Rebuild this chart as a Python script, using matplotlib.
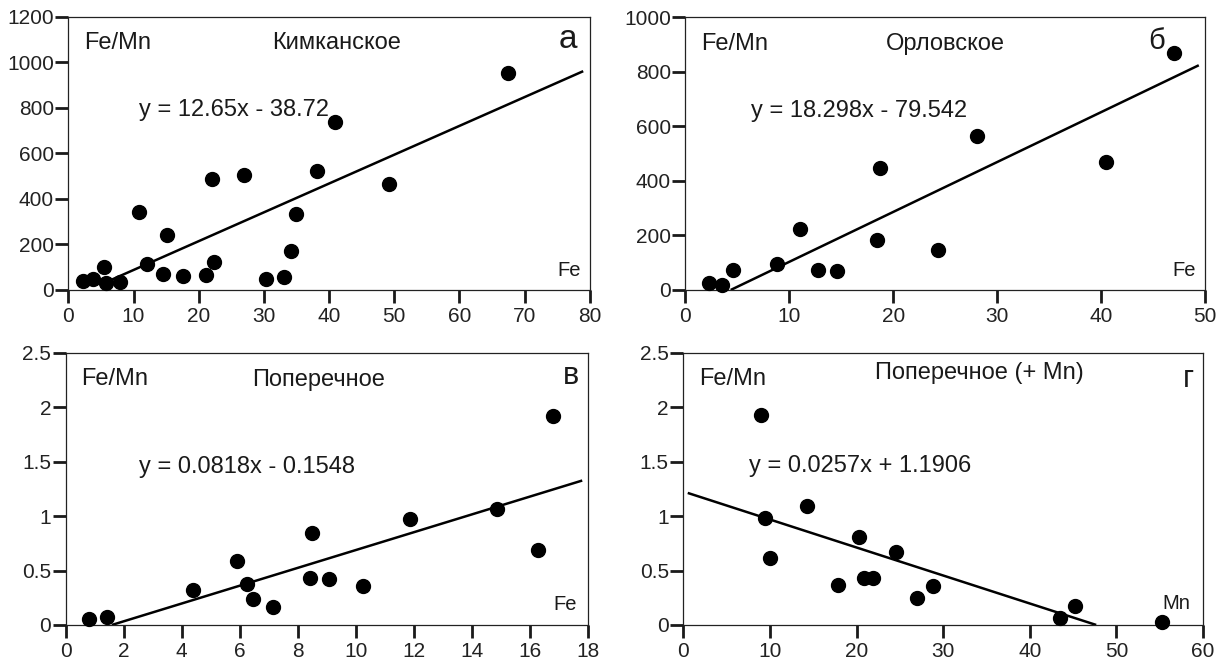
import numpy as np
import matplotlib.pyplot as plt
from matplotlib.ticker import FuncFormatter

plt.rcParams['font.family'] = ['Liberation Sans', 'DejaVu Sans']

# --- panel а: Кимканское ---
a_fe = [2.2, 3.8, 5.5, 5.8, 7.9, 10.9, 12.1, 14.5, 15.2, 17.6, 21.1, 22.1,
        22.4, 26.9, 30.3, 33.1, 34.2, 34.9, 38.1, 40.9, 49.2, 67.5]
a_ratio = [41, 47, 102, 32, 37, 342, 113, 70, 241, 63, 66, 487,
           121, 503, 50, 59, 171, 332, 522, 738, 467, 953]

# --- panel б: Орловское ---
b_fe = [2.3, 3.5, 4.6, 8.8, 11.0, 12.8, 14.6, 18.4, 18.7, 24.3, 28.1, 40.5, 47.0]
b_ratio = [27, 20, 75, 95, 224, 73, 71, 185, 447, 147, 565, 471, 869]

# --- panel в: Поперечное ---
c_fe = [0.81, 1.44, 4.4, 5.92, 6.26, 6.44, 7.15, 8.41, 8.48, 9.09, 10.25,
        11.88, 14.86, 16.27, 16.8]
c_ratio = [0.052, 0.07, 0.321, 0.591, 0.373, 0.242, 0.168, 0.431, 0.848,
           0.425, 0.358, 0.976, 1.062, 0.688, 1.919]

# --- panel г: Поперечное (+ Mn) ---
d_mn = [8.98, 9.38, 9.97, 14.3, 17.9, 20.3, 20.84, 21.88, 24.58, 27.02,
        28.78, 43.5, 45.2, 55.3]
d_ratio = [1.932, 0.978, 0.611, 1.094, 0.367, 0.804, 0.431, 0.431, 0.672,
           0.248, 0.361, 0.061, 0.171, 0.028]

# trend lines: (slope, intercept, x start, x end)
a_fit = (12.65, -38.72, 6.0, 79.0)
b_fit = (18.298, -79.542, 4.35, 49.4)
c_fit = (0.0818, -0.13, 1.59, 17.8)
d_fit = (-0.0257, 1.225, 0.5, 47.66)

panels = [
    dict(rect=[0.0559, 0.5646, 0.4263, 0.4104], x=a_fe, y=a_ratio, fit=a_fit,
         xlim=(0, 80), xstep=10, ylim=(0, 1200), ystep=200,
         title="Кимканское", tx=0.514, ty=0.902, tag="а", tagx=0.975, tagy=0.915,
         tagsize=24,
         eq="y = 12.65x - 38.72", eqx=0.135, eqy=0.659,
         xl="Fe", xlx=0.983, xly=0.07),
    dict(rect=[0.5605, 0.5646, 0.4248, 0.4093], x=b_fe, y=b_ratio, fit=b_fit,
         xlim=(0, 50), xstep=10, ylim=(0, 1000), ystep=200,
         title="Орловское", tx=0.50, ty=0.902, tag="б", tagx=0.923, tagy=0.915,
         tagsize=21,
         eq="y = 18.298x - 79.542", eqx=0.126, eqy=0.658,
         xl="Fe", xlx=0.983, xly=0.07),
    dict(rect=[0.0537, 0.0616, 0.4271, 0.4089], x=c_fe, y=c_ratio, fit=c_fit,
         xlim=(0, 18), xstep=2, ylim=(0, 2.5), ystep=0.5,
         title="Поперечное", tx=0.485, ty=0.90, tag="в", tagx=0.983, tagy=0.915,
         tagsize=22,
         eq="y = 0.0818x - 0.1548", eqx=0.14, eqy=0.58,
         xl="Fe", xlx=0.979, xly=0.075),
    dict(rect=[0.5588, 0.0616, 0.4249, 0.4089], x=d_mn, y=d_ratio, fit=d_fit,
         xlim=(0, 60), xstep=10, ylim=(0, 2.5), ystep=0.5,
         title="Поперечное (+ Mn)", tx=0.569, ty=0.924, tag="г", tagx=0.983, tagy=0.905,
         tagsize=22,
         eq="y = 0.0257x + 1.1906", eqx=0.126, eqy=0.582,
         xl="Mn", xlx=0.975, xly=0.08),
]

fig = plt.figure(figsize=(12.23, 6.66), dpi=100)

for p in panels:
    ax = fig.add_axes(p["rect"])
    ax.plot(p["x"], p["y"], "o", color="black", markersize=10, clip_on=False, zorder=3)

    k, b, x0, x1 = p["fit"]
    xs = np.array([x0, x1])
    ax.plot(xs, k * xs + b, color="black", lw=1.8, solid_capstyle="butt", zorder=2)

    ax.set_xlim(*p["xlim"])
    ax.set_ylim(*p["ylim"])
    ax.set_xticks(np.arange(p["xlim"][0], p["xlim"][1] + 1e-9, p["xstep"]))
    ax.set_yticks(np.arange(p["ylim"][0], p["ylim"][1] + 1e-9, p["ystep"]))
    ax.xaxis.set_major_formatter(FuncFormatter(lambda v, _: f"{v:g}"))
    ax.yaxis.set_major_formatter(FuncFormatter(lambda v, _: f"{v:g}"))

    for s in ax.spines.values():
        s.set_linewidth(0.9)
        s.set_color("#222222")
    ax.tick_params(direction="out", length=9.5, width=2, color="#1a1a1a",
                   labelsize=15, labelcolor="#222222")
    ax.tick_params(axis="y", pad=1)
    ax.tick_params(axis="x", pad=3)

    ax.text(0.03, 0.902, "Fe/Mn", transform=ax.transAxes, fontsize=17,
            ha="left", va="center", color="#1a1a1a")
    ax.text(p["tx"], p["ty"], p["title"], transform=ax.transAxes, fontsize=17,
            ha="center", va="center", color="#1a1a1a")
    ax.text(p["tagx"], p["tagy"], p["tag"], transform=ax.transAxes,
            fontsize=p["tagsize"], ha="right", va="center", color="#1a1a1a")
    ax.text(p["eqx"], p["eqy"], p["eq"], transform=ax.transAxes, fontsize=17,
            ha="left", va="center", color="#1a1a1a")
    ax.text(p["xlx"], p["xly"], p["xl"], transform=ax.transAxes, fontsize=14.5,
            ha="right", va="center", color="#1a1a1a")

fig.savefig("out.png", dpi=100)
